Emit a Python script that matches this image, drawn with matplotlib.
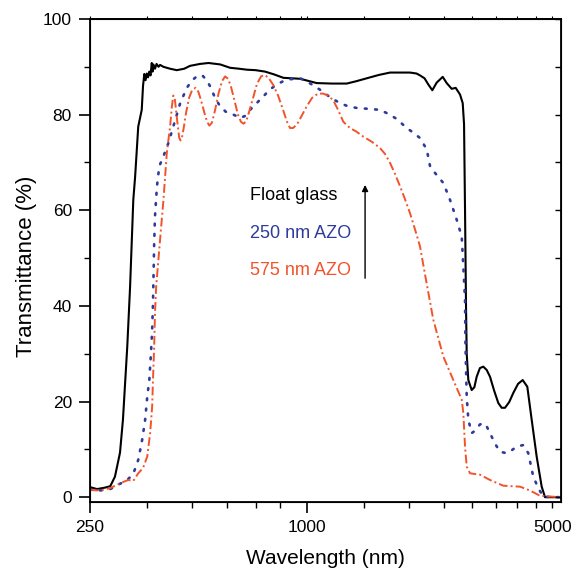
import matplotlib
matplotlib.use("Agg")
import matplotlib.pyplot as plt
from matplotlib.ticker import FixedLocator, FuncFormatter, NullFormatter

plt.rcParams['font.family'] = ['Liberation Sans', 'DejaVu Sans']

# ---------------- data ----------------
glass_wl = [260, 272, 286, 296, 305, 315, 321, 330, 336, 343, 347, 354, 362, 365, 368,
            371, 374, 377, 380, 383, 386, 388, 390, 394, 398, 403, 407, 416, 434, 453, 475, 493,
            525, 555, 598, 637, 675, 709, 750, 797, 845, 896, 997, 1109, 1220, 1344, 1430, 1527,
            1650, 1773, 2014, 2100, 2148, 2210, 2265,
            2323, 2389, 2483, 2547, 2630, 2698, 2774, 2822, 2846, 2864, 2882, 2895, 2925,
            2989, 3040, 3086, 3150, 3219, 3290, 3360, 3450, 3543, 3620, 3699, 3800, 3900, 4020,
            4142, 4266, 4387, 4529, 4677, 4777, 5258]
glass_T = [2.1, 1.7, 2.0, 2.3, 4.3, 9.3, 16.2, 31.5, 44.0, 62.2, 67.0, 77.5, 81.0, 86.0, 88.5,
           87.2, 88.6, 87.8, 89.0, 88.2, 90.8, 89.0, 90.5, 89.6, 90.6, 90.0, 90.4, 90.0, 89.6, 89.3, 89.6, 90.2,
           90.6, 90.8, 90.5, 89.8, 89.6, 89.4, 89.3, 89.0, 88.4, 87.7, 87.5, 86.6, 86.5, 86.5, 87.0, 87.6,
           88.3, 88.8, 88.8, 88.6, 88.2, 87.6, 86.3,
           85.1, 86.7, 87.9, 86.6, 85.4, 85.6, 84.2, 82.4, 78.0, 60.0, 40.0, 30.0, 24.5,
           22.4, 23.0, 25.2, 27.0, 27.3, 26.6, 25.2, 22.3, 19.7, 18.7, 18.7, 19.9, 21.8, 23.7,
           24.5, 23.1, 16.2, 8.5, 2.2, 0.0, 0.0]

azo250_wl = [260, 277, 296, 315, 330, 343, 354, 363, 370, 375, 380, 384, 387, 389, 390, 392,
             394, 399, 405, 416, 429, 443, 463, 483, 500, 515, 525, 535, 547, 561, 578, 598, 620,
             651, 679, 700, 724, 755, 788, 820, 859, 895, 935, 997, 1018, 1070, 1133, 1210, 1287,
             1360, 1433, 1550, 1663, 1760, 1850, 1972, 2060, 2148, 2242, 2290, 2364,
             2493, 2601, 2716, 2804, 2833, 2864, 2873, 2895, 2925, 2989, 3040, 3086, 3150, 3219,
             3290, 3360, 3470, 3582, 3739, 3860, 3986, 4158, 4293, 4432, 4576, 4725, 5258]
azo250_T = [1.7, 1.4, 1.7, 2.8, 3.6, 4.9, 7.8, 12.0, 16.2, 21.0, 24.5, 30.1, 35.0, 40.6, 44.8, 53.1,
            58.7, 65.0, 69.2, 71.3, 74.0, 77.5, 82.4, 85.6, 87.2, 88.0, 88.3, 88.1, 87.3, 85.9, 83.6, 81.7, 80.6,
            80.0, 79.3, 79.7, 81.0, 82.4, 83.8, 85.2, 86.3, 87.0, 87.4, 87.6, 87.3, 86.4, 85.2, 83.6, 82.4,
            81.7, 81.4, 81.2, 81.0, 80.1, 79.1, 77.2, 76.2, 75.1, 72.7, 69.2, 67.8,
            65.7, 62.2, 58.0, 54.5, 48.2, 41.3, 31.5, 21.0, 16.2, 13.4, 13.8, 14.4, 15.2, 15.5,
            14.8, 13.4, 11.2, 9.5, 9.2, 9.8, 10.6, 10.9, 9.2, 4.3, 1.9, 0.1, 0.0]

azo575_wl = [260, 277, 296, 315, 332, 343, 354, 365, 375, 382,
             387, 389, 392, 394, 397, 407, 416, 425, 434, 439,
             443, 447, 450, 455, 460, 464, 469, 473, 481, 490,
             500, 511, 520, 529, 540, 550, 558, 567, 579, 592,
             605, 617, 629, 641, 655, 670, 683, 694, 706, 719,
             738, 757, 777, 797, 818, 840, 866, 894, 917, 935,
             953, 978, 1003, 1036, 1076, 1118, 1155, 1192, 1233, 1271,
             1315, 1372, 1426, 1494, 1580, 1663, 1716, 1773, 1830, 1890,
             1951, 2014, 2080, 2148, 2218, 2338, 2493, 2657, 2804, 2833,
             2864, 2895, 2957, 3152, 3360, 3659, 4071, 4340, 4626, 5258]
azo575_T = [1.5, 1.4, 1.9, 2.9, 3.6, 3.4, 5.0, 6.1, 8.5, 13.4,
            19.0, 24.5, 31.5, 38.5, 44.0, 53.8, 62.2, 72.0, 77.5, 81.7,
            84.0, 83.5, 81.5, 78.2, 75.2, 74.6, 75.5, 77.0, 80.5, 83.5,
            85.2, 85.6, 84.8, 83.0, 80.5, 78.5, 77.7, 78.3, 81.0, 84.5,
            87.0, 88.0, 87.5, 85.8, 83.0, 80.0, 78.5, 78.1, 78.6, 80.5,
            83.5, 86.5, 88.0, 88.3, 87.5, 86.2, 84.0, 81.0, 78.5, 77.2,
            77.2, 78.0, 79.5, 81.5, 83.5, 84.4, 84.4, 84.0, 83.0, 81.0,
            78.5, 77.2, 76.5, 75.4, 74.3, 73.0, 71.8, 69.9, 67.6, 65.0,
            62.3, 59.4, 56.0, 52.4, 46.5, 37.1, 29.4, 24.5, 20.4, 17.6,
            10.6, 6.4, 5.0, 4.7, 3.6, 2.4, 2.2, 1.4, 0.3, 0.0]

series_labels = ["Float glass", "250 nm AZO", "575 nm AZO"]
major_tick_pos = [260, 1042]
major_tick_labels = ["250", "1000"]
minor_tick_pos = [375, 500, 625, 750, 875, 1500, 2000, 2500, 3000, 3500, 4000, 4500, 5000]

BLUE = '#2e3a9c'
RED = '#f2532a'

# ---------------- figure ----------------
fig = plt.figure(figsize=(5.82, 5.75), dpi=100)
ax = fig.add_axes([90/582, 1-501.5/575, (561-90)/582, (501.5-19)/575])

ax.plot(glass_wl, glass_T, color='black', lw=1.5, solid_joinstyle='round')
ax.plot(azo250_wl, azo250_T, color=BLUE, lw=1.9, linestyle=(0, (0.7, 3.2)),
        dash_capstyle='round')
ax.plot(azo575_wl, azo575_T, color=RED, lw=1.4, linestyle=(0, (4.5, 1.6, 1.0, 1.6)))

ax.set_xscale('log')
ax.set_xlim(260, 5292)
ax.set_ylim(-0.9, 100)

ax.xaxis.set_major_locator(FixedLocator(major_tick_pos))
ax.xaxis.set_major_formatter(FuncFormatter(lambda v, p: major_tick_labels[major_tick_pos.index(v)]
                                           if v in major_tick_pos else ''))
ax.xaxis.set_minor_locator(FixedLocator(minor_tick_pos))
ax.xaxis.set_minor_formatter(FuncFormatter(lambda v, p: '5000' if abs(v - 5000) < 1 else ''))

ax.set_yticks([0, 20, 40, 60, 80, 100])
ax.set_yticks([10, 30, 50, 70, 90], minor=True)

ax.tick_params(axis='both', which='major', direction='out', length=8, width=1.2,
               labelsize=12.5, pad=5)
ax.tick_params(axis='both', which='minor', direction='out', length=4, width=1.0,
               labelsize=12.5, pad=9)

for s in ax.spines.values():
    s.set_linewidth(1.3)

top = ax.secondary_xaxis('top')
top.set_xscale('log')
top.xaxis.set_major_locator(FixedLocator(major_tick_pos + [1000] + minor_tick_pos))
top.xaxis.set_minor_locator(FixedLocator([]))
top.xaxis.set_major_formatter(NullFormatter())
top.tick_params(axis='x', which='both', direction='out', length=2.5, width=0.8)
top.spines['top'].set_linewidth(1.3)

ax2 = ax.twinx()
ax2.set_ylim(ax.get_ylim())
ax2.set_yticks([0, 10, 20, 30, 40, 50, 60, 70, 80, 90, 100])
ax2.tick_params(axis='y', direction='in', length=4, width=1.0, labelright=False)
ax2.tick_params(axis='y', which='minor', right=False)

ax.set_xlabel('Wavelength (nm)', fontsize=15, va='top')
ax.xaxis.set_label_coords(0.5, -0.099)
ax.set_ylabel('Transmittance (%)', fontsize=16)
ax.yaxis.set_label_coords(-0.112, 0.487)

ax.text(724, 62.05, series_labels[0], color='black', fontsize=13, va='baseline', ha='left')
ax.text(724, 54.2, series_labels[1], color=BLUE, fontsize=13, va='baseline', ha='left')
ax.text(724, 46.5, series_labels[2], color=RED, fontsize=13, va='baseline', ha='left')
ax.annotate('', xy=(1511, 65.3), xytext=(1511, 45.8),
            arrowprops=dict(arrowstyle='-|>', color='black', lw=1.0,
                            mutation_scale=9, shrinkA=0, shrinkB=0))

fig.savefig('out.png', dpi=100)
